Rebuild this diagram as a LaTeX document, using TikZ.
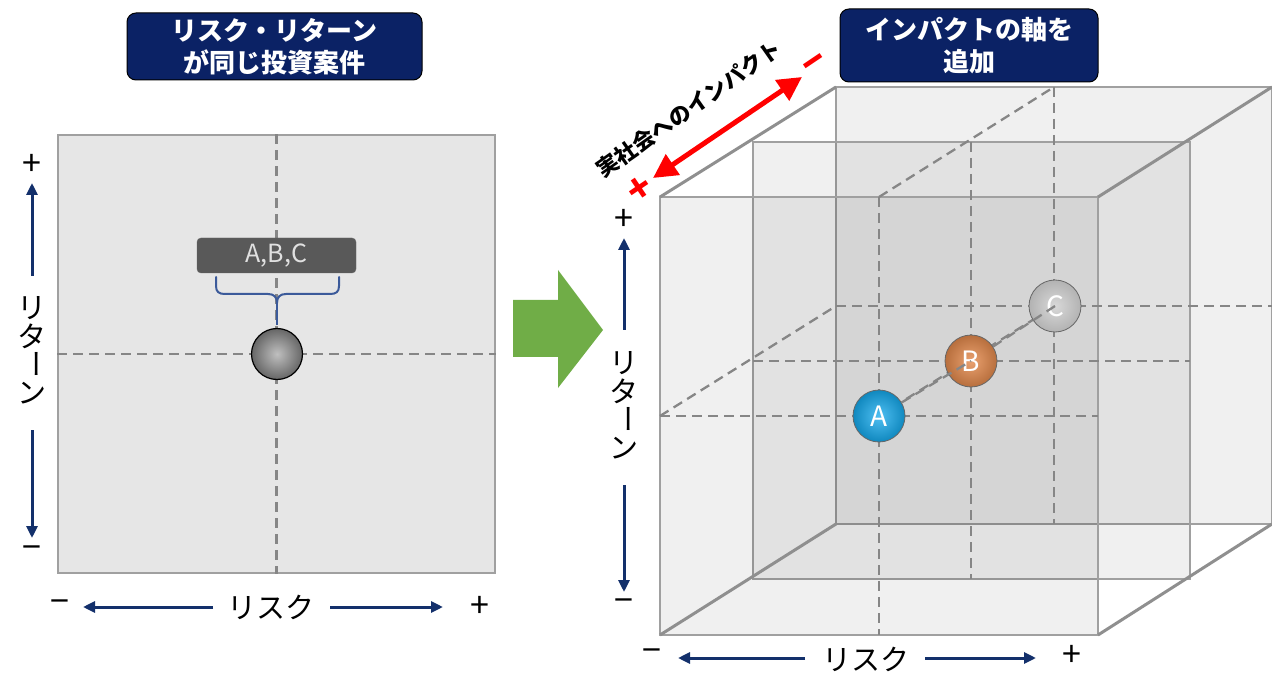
\documentclass[tikz,border=0pt]{standalone}
\usepackage{fontspec}
\setmainfont{Noto Sans CJK JP}
\usetikzlibrary{arrows.meta}
\definecolor{navy}{HTML}{0B2265}
\definecolor{axisblue}{HTML}{13306B}
\definecolor{gridgray}{HTML}{868686}
\definecolor{edgegray}{HTML}{A0A0A0}
\definecolor{depthgray}{HTML}{8F8F8F}
\definecolor{panelfill}{HTML}{E6E6E6}
\definecolor{labelgray}{HTML}{595959}
\definecolor{bracecol}{HTML}{3B5A9A}
\definecolor{arrowgreen}{HTML}{70AD47}
\definecolor{ballblue}{HTML}{14AAEE}
\definecolor{ballorange}{HTML}{E58A4C}
\definecolor{ballgray}{HTML}{BDBDBD}
\definecolor{impactred}{HTML}{FF0000}
\begin{document}
\begin{tikzpicture}[x=1pt,y=-1pt,
  titlebox/.style={fill=navy, draw=black, line width=1pt, rounded corners=9pt, text=white,
    font=\fontsize{26}{32}\selectfont\bfseries, align=center, inner sep=0pt},
  gridline/.style={draw=gridgray, line width=2.3pt, dash pattern=on 10pt off 6pt},
  axisarrow/.style={draw=axisblue, line width=3pt, -{Triangle[length=12pt,width=11pt]}},
  axislabel/.style={font=\fontsize{29}{29}\selectfont, inner sep=0pt},
  signlabel/.style={font=\fontsize{34}{34}\selectfont, inner sep=0pt},
  plane/.style={fill=black, fill opacity=0.06, draw=edgegray, line width=1.6pt},
  depthedge/.style={draw=depthgray, line width=3pt},
  sphere/.style={circle, draw=black!60, line width=0.8pt, minimum size=52pt, inner sep=0pt,
    text=white, font=\fontsize{28}{28}\selectfont},
  redsign/.style={text=impactred, font=\fontsize{38}{38}\selectfont\bfseries, inner sep=0pt, rotate=34}
]
\useasboundingbox (0,0) rectangle (1272,676);

% ---------- titles ----------
\node[titlebox, minimum width=295pt, minimum height=67pt] (t1) at (274.5,46.5) {リスク・リターン\\が同じ投資案件};
\node[titlebox, minimum width=258pt, minimum height=73pt] (t2) at (969,45.5) {インパクトの軸を\\追加};

% ---------- left panel ----------
\node[draw=edgegray, fill=panelfill, line width=1.5pt, minimum width=437pt, minimum height=438pt, inner sep=0pt] (lp) at (276.5,354) {};
\draw[gridline] (lp.north) -- (lp.south);
\draw[gridline] (lp.west) -- (lp.east);
\node[fill=labelgray, draw=black!60, rounded corners=4pt, minimum width=159pt, minimum height=35pt, inner sep=0pt,
  text=white!88!black, font=\fontsize{25}{25}\selectfont] (abc) at (276.5,255.5) {A,B,C};
\draw[draw=bracecol, line width=2pt, line cap=round, line join=round]
  (216,277) -- (216,286) .. controls (216,292) and (219,294) .. (225,294) -- (268,294)
  .. controls (274,294) and (277,297) .. (277,303)
  .. controls (277,297) and (280,294) .. (286,294) -- (330,294)
  .. controls (336,294) and (339,292) .. (339,286) -- (339,277);
\draw[draw=bracecol, line width=2pt] (277,303) -- (277,325);
\node[sphere, shading=radial, inner color=gray!50, outer color=gray!80!black, draw=black, line width=1.2pt, minimum size=51pt] (ball0) at (277,354) {};

% left axes
\node[signlabel] (lplus) at (32,165) {+};
\coordinate (lupS) at (32,276);
\coordinate (lupE) at (32,183);
\draw[axisarrow] (lupS) -- (lupE);
\node[axislabel] (lr1) at (32,308) {リ};
\node[axislabel] (lr2) at (32,336) {タ};
\node[axislabel, rotate=-90] (lr3) at (32,364) {ー};
\node[axislabel] (lr4) at (32,393) {ン};
\coordinate (ldnS) at (32,430);
\coordinate (ldnE) at (32,538);
\draw[axisarrow] (ldnS) -- (ldnE);
\node[signlabel] (lminus) at (32,553) {−};

\node[signlabel] (bminus) at (60,607) {−};
\coordinate (blS) at (213,607);
\coordinate (blE) at (83,607);
\draw[axisarrow] (blS) -- (blE);
\node[axislabel] (brisk) at (271,607) {リスク};
\coordinate (brS) at (330,607);
\coordinate (brE) at (443,607);
\draw[axisarrow] (brS) -- (brE);
\node[signlabel] (bplus) at (480,607) {+};

% ---------- green arrow ----------
\fill[arrowgreen] (513,300) -- (558,300) -- (558,270) -- (603,330) -- (558,388) -- (558,357) -- (513,357) -- cycle;

% ---------- cube ----------
\coordinate (F1) at (660,197); \coordinate (F2) at (1098,197);
\coordinate (F3) at (1098,635); \coordinate (F4) at (660,635);
\coordinate (M1) at (753,142); \coordinate (M3) at (1190,579);
\coordinate (B1) at (836,87);  \coordinate (B2) at (1272,87);
\coordinate (B3) at (1272,524); \coordinate (B4) at (836,524);

\draw[plane] (B1) rectangle (B3);
\draw[plane] (M1) rectangle (M3);
\draw[plane] (F1) rectangle (F3);

% dashed grid
\draw[gridline] (1054,87) -- (1054,524);
\draw[gridline] (836,306) -- (1272,306);
\draw[gridline] (971,142) -- (971,579);
\draw[gridline] (753,361) -- (1190,361);
\draw[gridline] (879,197) -- (879,635);
\draw[gridline] (660,416) -- (1098,416);
\draw[gridline] (660,416) -- (836,306);
\draw[gridline] (879,197) -- (1054,87);
\draw[gridline] (879,416) -- (1055,306);

% depth edges
\draw[depthedge] (F1) -- (B1);
\draw[depthedge] (F2) -- (B2);
\draw[depthedge] (F3) -- (B3);
\draw[depthedge] (F4) -- (B4);

% spheres
\node[sphere, shading=radial, inner color=gray!30, outer color=gray!60] (C) at (1055,306) {C};
\node[sphere, shading=radial, inner color=ballorange!80!white, outer color=ballorange!80!black] (B) at (971,361) {B};
\node[sphere, shading=radial, inner color=ballblue!75!white, outer color=ballblue!80!black] (A) at (879,416) {A};
\draw[gridline] (A) -- (B.center);
\draw[gridline] (B) -- (C.center);

% right axes
\node[signlabel] (rplus) at (624,220) {+};
\coordinate (rupS) at (624,330);
\coordinate (rupE) at (624,238);
\draw[axisarrow] (rupS) -- (rupE);
\node[axislabel] (rr1) at (624,363) {リ};
\node[axislabel] (rr2) at (624,391) {タ};
\node[axislabel, rotate=-90] (rr3) at (624,419) {ー};
\node[axislabel] (rr4) at (624,448) {ン};
\coordinate (rdnS) at (624,485);
\coordinate (rdnE) at (624,592);
\draw[axisarrow] (rdnS) -- (rdnE);
\node[signlabel] (rminus) at (624,606) {−};

\node[signlabel] (cminus) at (652,656) {−};
\coordinate (clS) at (805,658);
\coordinate (clE) at (678,658);
\draw[axisarrow] (clS) -- (clE);
\node[axislabel] (crisk) at (866,659) {リスク};
\coordinate (crS) at (925,658);
\coordinate (crE) at (1036,658);
\draw[axisarrow] (crS) -- (crE);
\node[signlabel] (cplus) at (1072,656) {+};

% impact axis
\coordinate (ip) at (653,178);
\coordinate (im) at (802,77);
\draw[draw=impactred, line width=5pt, {Triangle[length=24pt,width=24pt]}-{Triangle[length=24pt,width=24pt]}] (ip) -- (im);
\node[redsign] (iplus) at (640,190) {+};
\node[redsign] (iminus) at (816,66) {−};
\node[font=\fontsize{22}{22}\selectfont\bfseries, inner sep=0pt, rotate=35] (itext) at (689,109) {実社会へのインパクト};
\end{tikzpicture}
\end{document}
